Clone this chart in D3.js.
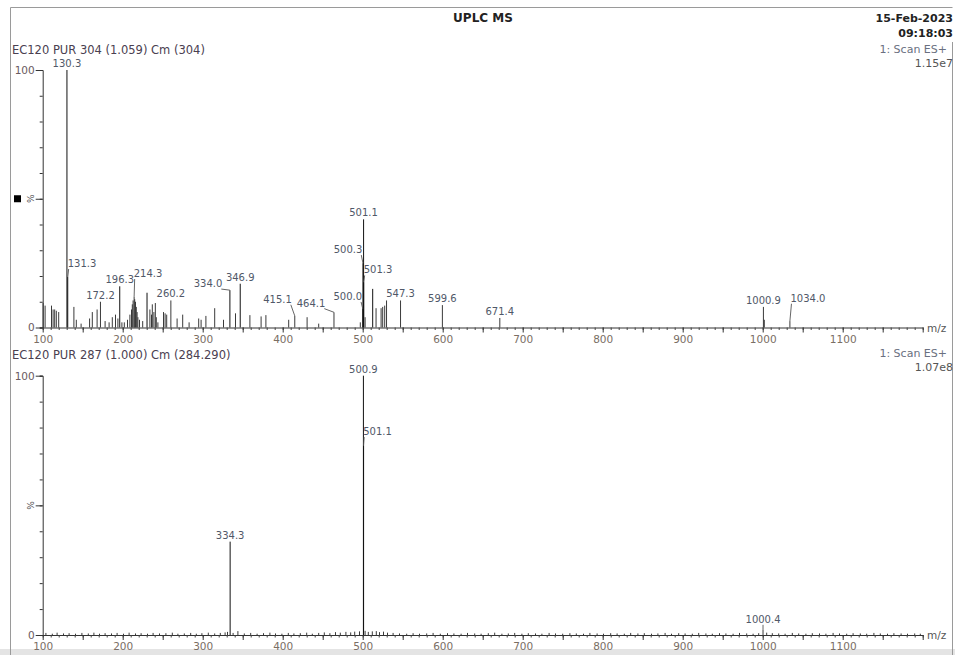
<!DOCTYPE html>
<html><head><meta charset="utf-8">
<script src="https://cdn.jsdelivr.net/npm/d3@7"></script>
<style>
body{margin:0;background:#fff;}
svg{font-family:"DejaVu Sans",sans-serif;}
</style></head>
<body><svg id="c" width="955" height="655"></svg>
<script>
// ---- data ----
const title = "UPLC MS";
const dateText = ["15-Feb-2023", "09:18:03"];
const topHeader = "EC120 PUR 304 (1.059) Cm (304)";
const bottomHeader = "EC120 PUR 287 (1.000) Cm (284.290)";
const topScan = ["1: Scan ES+", "1.15e7"];
const bottomScan = ["1: Scan ES+", "1.07e8"];
const xLabelTicks = [100,200,300,400,500,600,700,800,900,1000,1100];
const yLabelTicks = [0, 100];

// top spectrum: [m/z, relative intensity %]
const topPeaks = [
  [100.5,9.5],[103,8.5],[111,8.5],[113,7],[115,7],[117,6.5],[120,6],
  [130.3,100],[131.3,19.6],[139,8],[142,3],[148,1.5],[158.6,3.5],[162,6],[168,7],
  [172.2,10],[178,2.5],[183,2],[187,4],[191,5],[194,3.5],[196.3,16],[199,2],[202,2],
  [206,3],[209,5],[211,7],[212,9],[213,10.5],[214.3,12],[215,11],[216,10],[217,8],
  [218,6],[219,4],[221,3],[225,2.5],[230.4,13.5],[234,7],[236,5],[237,9],[239,6],
  [240.8,9.5],[242,4],[244,2],[251,6],[253,5.5],[255,5],[260.2,10.5],[268,3.5],
  [275,5],[283,2],[295,3.5],[298,3],[304,4.5],[315,7.5],[326,3],[334.0,14.5],
  [341,5.5],[346.9,17],[359,4.8],[373,4.3],[379,4.8],[407.5,3],[415.1,4.5],
  [430.5,4],[445,1.5],[464.1,5.9],[497,2],[500.0,7.4],[500.3,25],[501.1,42],
  [501.3,17.6],[503,4],[512.5,15],[516.7,7.5],[523,7.5],[525,8],[527.5,8.5],
  [529.8,10.5],[547.3,10.5],[599.6,8.7],[671.4,3.7],[1000.9,8],[1002,3],[1034.0,2.5]
];
// labelled peaks of the top spectrum
const topLabels = [130.3,131.3,172.2,196.3,214.3,260.2,334.0,346.9,415.1,464.1,
  500.0,500.3,501.1,501.3,547.3,599.6,671.4,1000.9,1034.0];
// labels shifted from their peak (label centre m/z, label baseline %)
const topLabelShift = {
  "131.3":[149.1,23.5], "214.3":[231.6,19.6], "334.0":[306.6,15.7],
  "415.1":[393.5,9.6], "464.1":[435.4,8.1], "500.0":[481.3,10.7],
  "500.3":[481.6,28.9], "501.3":[519.1,21.0], "1034.0":[1056.6,10.0]
};

// bottom spectrum
const bottomPeaks = [
  [334.3,36],[500.9,100],[501.1,73],[1000.4,2],
  [104,0.8],[112,0.5],[118,0.9],[126,0.6],[133,0.7],[141,0.5],[149,0.8],[157,0.6],
  [164,0.9],[171,0.5],[178,0.7],[186,0.6],[193,0.8],[201,0.5],[208,0.9],[216,0.6],
  [223,0.7],[231,0.5],[238,0.8],[246,0.6],[254,0.7],[262,0.9],[269,0.5],[277,0.6],
  [285,0.8],[292,0.5],[299,0.7],[307,0.9],[315,0.6],[322,0.8],[328,1.0],[331,1.2],
  [338,0.8],[344,1.5],[352,0.6],[360,0.8],[368,0.5],[376,0.7],[384,0.9],[391,0.6],
  [399,0.5],[407,0.8],[414,0.6],[422,0.7],[430,0.9],[437,0.5],[445,0.8],[452,1.0],
  [459,0.7],[466,1.1],[472,0.9],[479,1.2],[485,1.0],[490,1.3],[496,1.4],[503,1.6],
  [507,1.2],[512,1.4],[517,1.5],[521,1.1],[526,1.3],[531,0.9],[538,0.8],[546,0.6],
  [555,0.5],[563,0.7],[571,0.5],[580,0.6],[588,0.8],[597,0.5],[606,0.7],[614,0.6],
  [623,0.5],[631,0.8],[640,0.6],[648,0.5],[657,0.7],[665,0.9],[674,0.5],[682,0.6],
  [690,0.8],[699,0.5],[707,0.7],[716,0.6],[724,0.5],[733,0.8],[741,0.6],[750,0.5],
  [759,0.7],[767,0.6],[776,0.5],[784,0.8],[793,0.6],[801,0.5],[810,0.7],[818,0.6],
  [827,0.5],[835,0.8],[844,0.6],[852,0.7],[861,0.5],[869,0.6],[878,0.8],[886,0.5],
  [895,0.7],[903,0.6],[912,0.5],[920,0.8],[929,0.6],[937,0.5],[946,0.7],[954,0.6],
  [963,0.5],[971,0.8],[980,0.6],[988,0.5],[995,0.7],[1005,0.9],[1012,0.7],[1020,0.6],
  [1028,0.5],[1037,0.8],[1045,0.6],[1054,0.5],[1062,0.7],[1071,0.6],[1079,0.5],
  [1088,0.8],[1096,0.6],[1105,0.5],[1113,0.7],[1122,0.6],[1130,0.5],[1139,0.8],
  [1147,0.6],[1156,0.5],[1164,0.7],[1173,0.6],[1181,0.5],[1190,0.6],[1197,0.5]
];
const bottomLabels = [334.3,500.9,501.1,1000.4];
const bottomLabelShift = { "501.1":[518.5,77.1], "1000.4":[1000.4,4.7] };

// ---- drawing ----
const svg = d3.select("#c");
const FF = "DejaVu Sans, sans-serif";
svg.append("rect").attr("x",0).attr("y",649).attr("width",955).attr("height",6).attr("fill","#e4e4e4");
// frame
svg.append("path").attr("d","M10.5,655 V7.5 H952.5").attr("fill","none").attr("stroke","#9a9a9a");
svg.append("line").attr("x1",952.5).attr("x2",952.5).attr("y1",42).attr("y2",655).attr("stroke","#9a9a9a");

svg.append("text").attr("x",483).attr("y",22).attr("text-anchor","middle")
  .attr("font-weight","bold").attr("font-size",12).attr("fill","#222").text(title);
dateText.forEach((t,i)=>svg.append("text").attr("x",953).attr("y",22+i*15).attr("text-anchor","end")
  .attr("font-weight","bold").attr("font-size",11).attr("fill","#222").text(t));

const x = d3.scaleLinear().domain([100,1200]).range([42.7,922.7]);

function panel(cfg){
  const y = d3.scaleLinear().domain([0,100]).range([cfg.y0, cfg.y100]);
  const g = svg.append("g");
  g.append("text").attr("x",12).attr("y",cfg.headerY).attr("font-size",11.5).attr("fill","#4a4050").text(cfg.header);
  cfg.scan.forEach((t,i)=>g.append("text").attr("x",i===0?947:953).attr("y",cfg.scanY+i*14)
    .attr("text-anchor","end").attr("font-size",11).attr("fill",i===0?"#6a7080":"#555").text(t));

  // peaks
  g.append("g").selectAll("line").data(cfg.peaks).join("line")
    .attr("x1",d=>x(d[0])).attr("x2",d=>x(d[0]))
    .attr("y1",y(0)).attr("y2",d=>y(d[1]))
    .attr("stroke",d=>d[1]>12?"#111":"#3a3a3a").attr("stroke-width",1);

  // x axis: minor (10) and major (50) ticks
  const minor = d3.range(100,1201,10);
  const major = d3.range(100,1201,50);
  g.append("g").attr("transform",`translate(0,${y(0)})`)
    .call(d3.axisBottom(x).tickValues(minor).tickSize(2.5).tickSizeOuter(0).tickFormat(""))
    .call(a=>a.select(".domain").attr("stroke","#333"))
    .call(a=>a.selectAll(".tick line").attr("stroke","#444"));
  g.append("g").attr("transform",`translate(0,${y(0)})`)
    .call(d3.axisBottom(x).tickValues(major).tickSize(5).tickSizeOuter(0).tickPadding(3)
      .tickFormat(d=>xLabelTicks.includes(d)?d:""))
    .call(a=>a.select(".domain").remove())
    .call(a=>a.selectAll(".tick line").attr("stroke","#333"))
    .call(a=>a.selectAll("text").attr("font-size",10.5).attr("fill","#7a6e64").attr("font-family",FF));
  g.append("text").attr("x",927).attr("y",y(0)+4).attr("font-size",10.5).attr("fill","#555").text("m/z");

  // y axis
  g.append("g").attr("transform",`translate(${x(100)},0)`)
    .call(d3.axisLeft(y).tickValues(d3.range(0,101,10)).tickSizeOuter(0).tickSize(3).tickFormat(""))
    .call(a=>a.select(".domain").attr("stroke","#333"))
    .call(a=>a.selectAll(".tick line").attr("stroke","#333"));
  g.append("g").attr("transform",`translate(${x(100)},0)`)
    .call(d3.axisLeft(y).tickValues(yLabelTicks.concat([50])).tickSizeOuter(0).tickSize(7).tickPadding(1)
      .tickFormat(d=>yLabelTicks.includes(d)?d:""))
    .call(a=>a.select(".domain").remove())
    .call(a=>a.selectAll(".tick line").attr("stroke","#333"))
    .call(a=>a.selectAll("text").attr("font-size",10.5).attr("fill","#6a5a60").attr("font-family",FF));
  g.append("text").attr("transform",`translate(${x(100)-9},${y(50)}) rotate(-90)`)
    .attr("text-anchor","middle").attr("font-size",9).attr("fill","#555").text("%");
  if(cfg.marker) g.append("rect").attr("x",14).attr("y",y(50)-3.5).attr("width",7).attr("height",7).attr("fill","#000");

  // labels
  const peakMap = new Map(cfg.peaks.map(p=>[p[0],p[1]]));
  cfg.labels.forEach(mz=>{
    const key = mz.toFixed(1);
    const px = x(mz), py = y(peakMap.get(mz));
    const shift = cfg.shift[key];
    const lx = shift? x(shift[0]) : px;
    const ly = shift? y(shift[1]) : py-3;
    const t = g.append("text").attr("x",lx).attr("y",ly).attr("text-anchor","middle")
      .attr("font-size",10).attr("fill","#505868").text(key);
    if(shift){
      const w = t.node().getComputedTextLength();
      let ax, ay = ly+2;
      if(Math.abs(lx-px) < w/2 - 3) ax = px;
      else if(lx > px) ax = lx - w/2 + 1;
      else ax = lx + w/2 - 1;
      g.append("line").attr("x1",ax).attr("y1",ay).attr("x2",px).attr("y2",py)
        .attr("stroke","#555").attr("stroke-width",0.9);
    }
  });
}

panel({y0:327.5, y100:70, header:topHeader, headerY:54, scan:topScan, scanY:53,
  peaks:topPeaks, labels:topLabels, shift:topLabelShift, marker:true});
panel({y0:635, y100:375.7, header:bottomHeader, headerY:359, scan:bottomScan, scanY:357,
  peaks:bottomPeaks, labels:bottomLabels, shift:bottomLabelShift, marker:false});
</script></body></html>
